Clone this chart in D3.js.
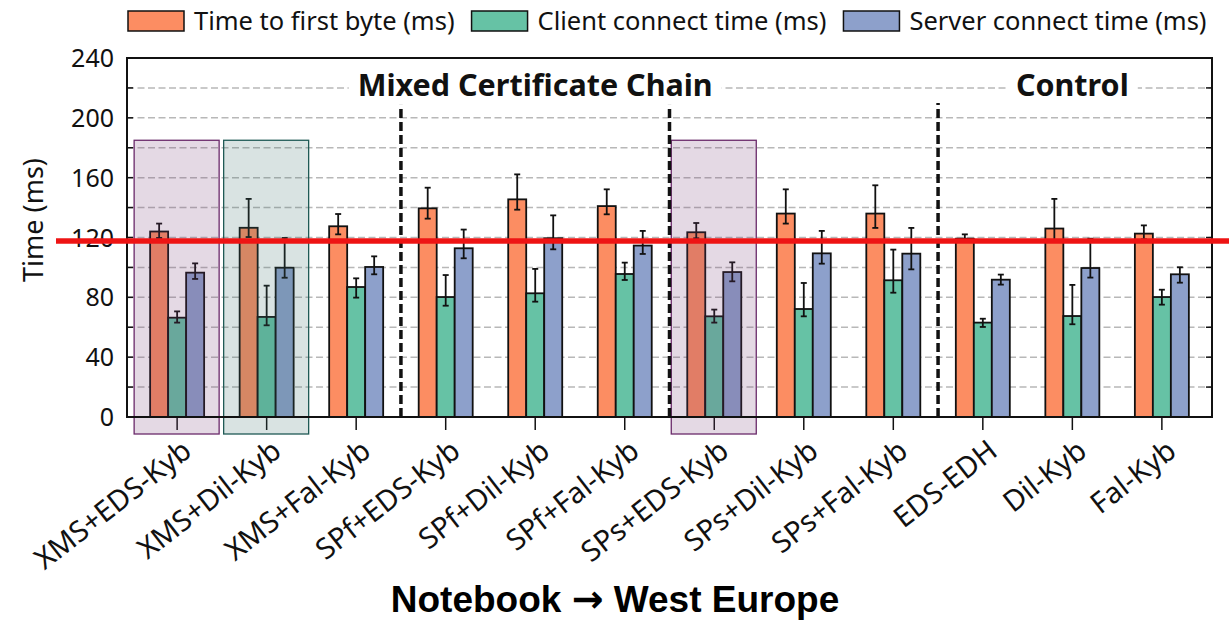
<!DOCTYPE html>
<html>
<head>
<meta charset="utf-8">
<script src="https://cdn.jsdelivr.net/npm/d3@7"></script>
<style>
  html, body { margin: 0; padding: 0; background: #fff; }
  svg { display: block; }
  text { font-family: "Noto Sans", "Open Sans", sans-serif; fill: #111; }
</style>
</head>
<body>
<div id="chart"></div>
<script>
// Categories and series
const categories = ["XMS+EDS-Kyb", "XMS+Dil-Kyb", "XMS+Fal-Kyb", "SPf+EDS-Kyb", "SPf+Dil-Kyb", "SPf+Fal-Kyb",
                    "SPs+EDS-Kyb", "SPs+Dil-Kyb", "SPs+Fal-Kyb", "EDS-EDH", "Dil-Kyb", "Fal-Kyb"];

const seriesNames = ["Time to first byte (ms)", "Client connect time (ms)", "Server connect time (ms)"];
const seriesColors = ["#fc8d62", "#66c2a5", "#8da0cb"];

const ttfb      = [124.0, 126.5, 127.5, 139.5, 145.5, 141.0, 123.5, 136.0, 136.0, 119.2, 126.0, 122.6];
const ttfbLow   = [119.7, 120.3, 122.1, 132.6, 138.6, 135.5, 119.5, 129.3, 126.4, 117.0, 117.0, 118.8];
const ttfbHigh  = [129.3, 145.8, 135.7, 153.3, 162.2, 152.2, 129.7, 152.2, 154.9, 122.1, 145.8, 128.1];

const client     = [66.4, 66.9, 86.9, 80.2, 82.7, 95.6, 67.3, 72.2, 91.4, 63.1, 67.5, 80.2];
const clientLow  = [63.1, 61.3, 79.8, 74.4, 77.1, 91.6, 63.1, 67.3, 83.1, 60.2, 62.0, 75.1];
const clientHigh = [70.6, 87.8, 92.7, 94.9, 99.0, 103.2, 71.8, 89.6, 111.9, 65.7, 88.3, 85.1];

const server     = [96.5, 99.8, 100.3, 112.8, 119.5, 114.6, 96.9, 109.4, 109.2, 91.8, 99.6, 95.4];
const serverLow  = [92.3, 93.1, 95.4, 106.1, 112.1, 109.0, 90.7, 102.5, 98.7, 88.5, 93.2, 89.8];
const serverHigh = [102.7, 119.7, 107.4, 125.3, 134.8, 124.4, 103.4, 124.4, 126.4, 95.2, 119.2, 100.1];

const yTicks = [0, 40, 80, 120, 160, 200, 240];
const yGrid = [20, 40, 60, 80, 100, 120, 140, 160, 180, 200, 220];

// Sections above the bars, and the dashed separators between groups
const sectionLabels = ["Mixed Certificate Chain", "Control"];
const sectionFirst = ["XMS+EDS-Kyb", "EDS-EDH"];
const sectionLast = ["SPs+Fal-Kyb", "Fal-Kyb"];
const separatorsAfter = ["XMS+Fal-Kyb", "SPf+Fal-Kyb", "SPs+Fal-Kyb"];

// Highlighted groups
const highlightCats = ["XMS+EDS-Kyb", "XMS+Dil-Kyb", "SPs+EDS-Kyb"];
const highlightFill = ["#784178", "#417370", "#784178"];
const highlightStroke = ["#6a2a6a", "#1f5a55", "#6a2a6a"];

const referenceLine = 117.7;
const xTitleLeft = "Notebook ";
const xTitleArrow = "\u2192";
const xTitleRight = " West Europe";
const yTitle = "Time (ms)";

// ---------------------------------------------------------------
const W = 1229, H = 620;
const margin = { top: 58, right: 17, bottom: 203, left: 127 };
const plotW = W - margin.left - margin.right;
const plotH = H - margin.top - margin.bottom;

const svg = d3.select("#chart").append("svg")
    .attr("width", W)
    .attr("height", H);

const g = svg.append("g")
    .attr("transform", "translate(" + margin.left + "," + margin.top + ")");

const x = d3.scalePoint()
    .domain(categories)
    .range([0, plotW])
    .padding(0.56);

const y = d3.scaleLinear()
    .domain([0, 240])
    .range([plotH, 0]);

const barW = 18;
const offsets = [-27, -9, 9];

// gridlines
g.selectAll(".grid")
    .data(yGrid)
    .enter().append("line")
    .attr("x1", 0).attr("x2", plotW)
    .attr("y1", d => y(d)).attr("y2", d => y(d))
    .attr("stroke", "#b8b8b8")
    .attr("stroke-width", 1.5)
    .attr("stroke-dasharray", "7,3.5");

// bars
const series = [
    { vals: ttfb, low: ttfbLow, high: ttfbHigh },
    { vals: client, low: clientLow, high: clientHigh },
    { vals: server, low: serverLow, high: serverHigh }
];

series.forEach((s, si) => {
    const rows = categories.map((c, i) => ({ c, v: s.vals[i], lo: s.low[i], hi: s.high[i] }));

    g.selectAll(".bar" + si)
        .data(rows)
        .enter().append("rect")
        .attr("x", d => x(d.c) + offsets[si])
        .attr("y", d => y(d.v))
        .attr("width", barW)
        .attr("height", d => y(0) - y(d.v))
        .attr("fill", seriesColors[si])
        .attr("stroke", "#111")
        .attr("stroke-width", 1.8);

    // error bars
    const eb = g.selectAll(".err" + si)
        .data(rows)
        .enter().append("g")
        .attr("transform", d => "translate(" + (x(d.c) + offsets[si] + barW / 2) + ",0)")
        .attr("stroke", "#111")
        .attr("stroke-width", 1.8);
    eb.append("line").attr("y1", d => y(d.lo)).attr("y2", d => y(d.hi));
    eb.append("line").attr("x1", -3).attr("x2", 3).attr("y1", d => y(d.lo)).attr("y2", d => y(d.lo));
    eb.append("line").attr("x1", -3).attr("x2", 3).attr("y1", d => y(d.hi)).attr("y2", d => y(d.hi));
});

// bottom ticks
g.selectAll(".xtick")
    .data(categories)
    .enter().append("line")
    .attr("x1", d => x(d)).attr("x2", d => x(d))
    .attr("y1", plotH).attr("y2", plotH + 13)
    .attr("stroke", "#111")
    .attr("stroke-width", 1.5);

// highlight boxes (drawn over the bars)
highlightCats.forEach((c, i) => {
    g.append("rect")
        .attr("x", x(c) - 43)
        .attr("y", y(185))
        .attr("width", 85)
        .attr("height", y(0) - y(185) + 17)
        .attr("fill", highlightFill[i])
        .attr("fill-opacity", 0.2)
        .attr("stroke", highlightStroke[i])
        .attr("stroke-width", 1.3);
});

// dashed separators
const step = x.step();
g.selectAll(".sep")
    .data(separatorsAfter)
    .enter().append("line")
    .attr("x1", d => x(d) + step / 2).attr("x2", d => x(d) + step / 2)
    .attr("y1", y(0)).attr("y2", y(210))
    .attr("stroke", "#111")
    .attr("stroke-width", 3.5)
    .attr("stroke-dasharray", "9,4");

// section titles with white background
sectionLabels.forEach((lab, i) => {
    const cx = (x(sectionFirst[i]) + x(sectionLast[i])) / 2;
    const tg = g.append("g");
    const t = tg.append("text")
        .attr("x", cx)
        .attr("y", y(220) + 8)
        .attr("text-anchor", "middle")
        .style("font-size", "30.5px")
        .style("font-weight", "bold")
        .text(lab);
    const bb = t.node().getBBox();
    tg.insert("rect", "text")
        .attr("x", bb.x - 9).attr("y", bb.y)
        .attr("width", bb.width + 18).attr("height", bb.height)
        .attr("fill", "#fff");
});

// frame
g.append("rect")
    .attr("x", 0).attr("y", 0)
    .attr("width", plotW).attr("height", plotH)
    .attr("fill", "none")
    .attr("stroke", "#111")
    .attr("stroke-width", 2);

// y ticks (inward on both sides)
const yMinor = d3.range(0, 241, 20);
g.selectAll(".ytickL")
    .data(yMinor)
    .enter().append("line")
    .attr("x1", 0).attr("x2", 6)
    .attr("y1", d => y(d)).attr("y2", d => y(d))
    .attr("stroke", "#111").attr("stroke-width", 1.5);
g.selectAll(".ytickR")
    .data(yMinor)
    .enter().append("line")
    .attr("x1", plotW - 6).attr("x2", plotW)
    .attr("y1", d => y(d)).attr("y2", d => y(d))
    .attr("stroke", "#111").attr("stroke-width", 1.5);

g.selectAll(".ylab")
    .data(yTicks)
    .enter().append("text")
    .attr("x", -13)
    .attr("y", d => y(d))
    .attr("dy", "0.36em")
    .attr("text-anchor", "end")
    .style("font-size", "25px")
    .text(d => d);

// x labels
g.selectAll(".xlab")
    .data(categories)
    .enter().append("text")
    .attr("transform", d => "translate(" + (x(d) + 2) + "," + (plotH + 19) + ") rotate(-38)")
    .attr("dy", "0.8em")
    .attr("text-anchor", "end")
    .style("font-size", "29px")
    .text(d => d);

// axis titles
svg.append("text")
    .attr("transform", "translate(34," + 220 + ") rotate(-90)")
    .attr("text-anchor", "middle")
    .attr("dy", "0.35em")
    .style("font-size", "27px")
    .text(yTitle);

const xt = svg.append("text")
    .attr("x", 615)
    .attr("y", 612)
    .attr("text-anchor", "middle")
    .style("font-family", "'Liberation Sans', Arial, sans-serif")
    .style("font-size", "37px")
    .style("font-weight", "bold")
    .style("fill", "#000");
xt.append("tspan").text(xTitleLeft);
xt.append("tspan")
    .style("font-family", "'DejaVu Sans', sans-serif")
    .style("font-size", "38px")
    .text(xTitleArrow);
xt.append("tspan").text(xTitleRight);

// legend
const legend = svg.append("g").attr("transform", "translate(128,0)");
let lx = 0;
seriesNames.forEach((name, i) => {
    legend.append("rect")
        .attr("x", lx).attr("y", 11)
        .attr("width", 56).attr("height", 20)
        .attr("fill", seriesColors[i])
        .attr("stroke", "#111")
        .attr("stroke-width", 1.5);
    const t = legend.append("text")
        .attr("x", lx + 66)
        .attr("y", 30)
        .style("font-size", "25.5px")
        .text(name);
    lx += 66 + t.node().getComputedTextLength() + 17;
});

// red reference line on top
svg.append("line")
    .attr("x1", 56).attr("x2", W)
    .attr("y1", margin.top + y(referenceLine))
    .attr("y2", margin.top + y(referenceLine))
    .attr("stroke", "#ee1414")
    .attr("stroke-width", 5.5);
</script>
</body>
</html>
